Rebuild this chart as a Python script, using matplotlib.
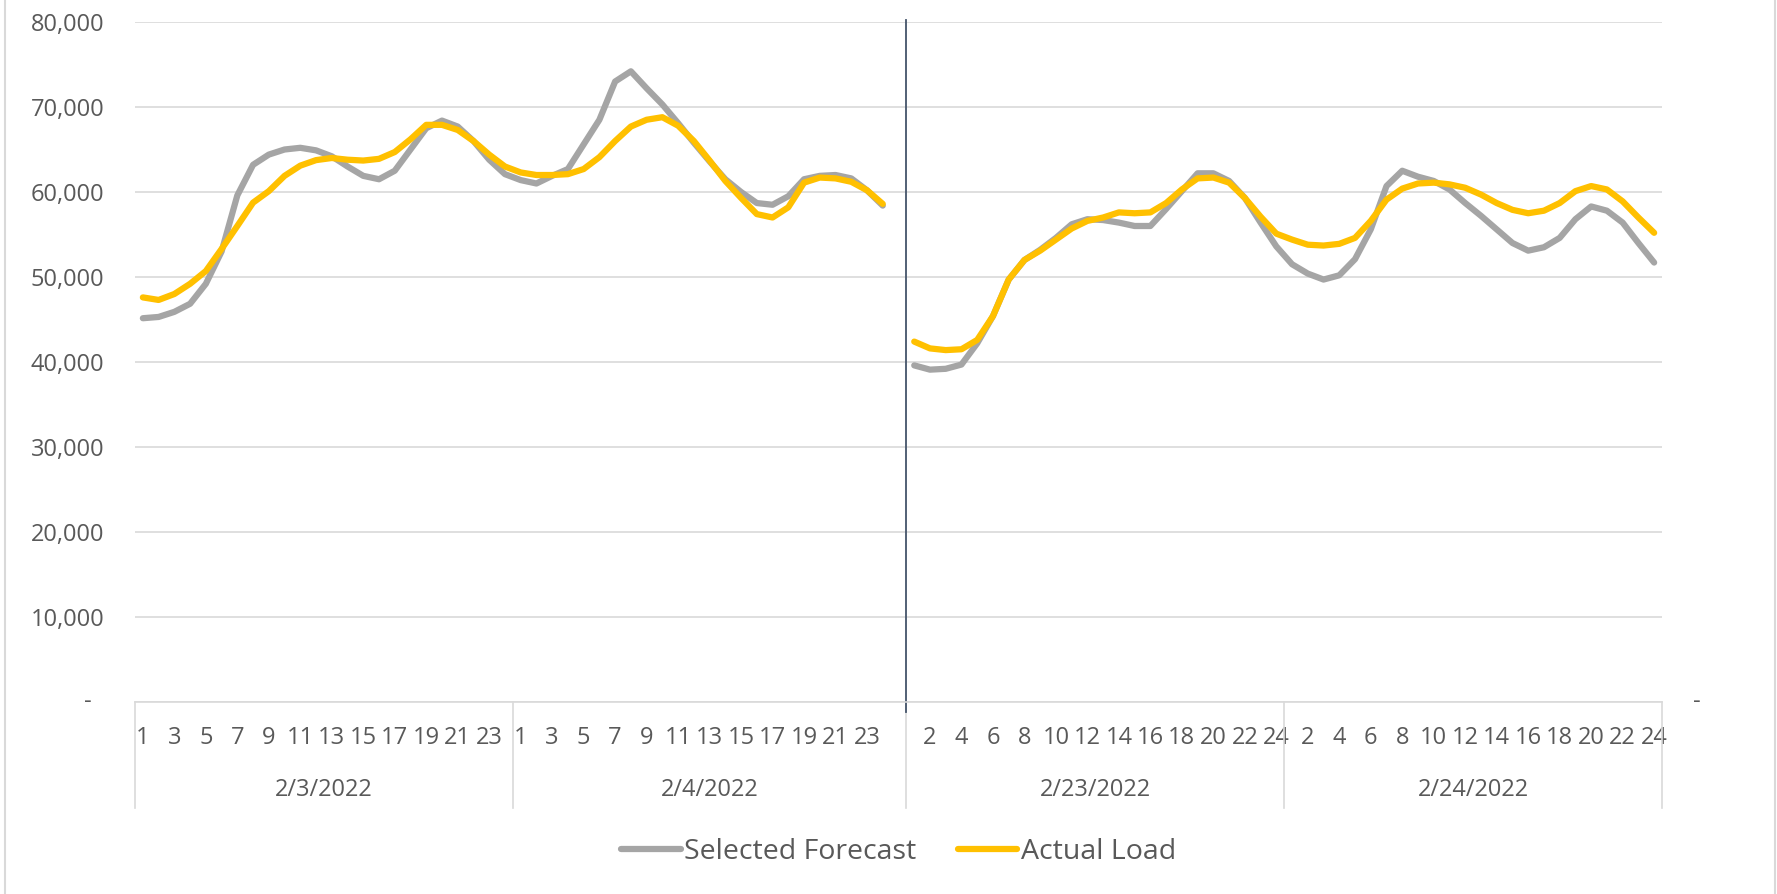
import matplotlib
matplotlib.use('Agg')
import matplotlib.pyplot as plt
from matplotlib.lines import Line2D
import numpy as np

plt.rcParams['font.family'] = ['Open Sans', 'DejaVu Sans']

# categories
dates = ['2/3/2022', '2/4/2022', '2/23/2022', '2/24/2022']
hours = list(range(1, 25))
gap_after = 1  # blank category after 2/4/2022

# hourly values (MW)
forecast_by_day = [
    [45150, 45300, 45900, 46850, 49200, 53000, 59600, 63200, 64400, 65000, 65200, 64900,
     64200, 63000, 61900, 61500, 62500, 65000, 67500, 68400, 67700, 66000, 63800, 62100],
    [61400, 61000, 61900, 62700, 65600, 68500, 73000, 74200, 72200, 70300, 68100, 65800,
     63600, 61500, 60000, 58700, 58500, 59500, 61500, 61900, 62000, 61600, 60200, 58400],
    [39600, 39100, 39200, 39700, 42200, 45400, 49700, 52000, 53200, 54600, 56200, 56800,
     56700, 56400, 56000, 56000, 58000, 60100, 62200, 62200, 61300, 59300, 56400, 53600],
    [51500, 50400, 49700, 50200, 52100, 55600, 60700, 62500, 61800, 61300, 60300, 58700,
     57200, 55600, 54000, 53100, 53500, 54600, 56800, 58300, 57800, 56400, 54000, 51700],
]
actual_by_day = [
    [47600, 47300, 48000, 49200, 50700, 53300, 56000, 58750, 60100, 61900, 63100, 63750,
     64000, 63800, 63700, 63900, 64700, 66200, 67900, 67900, 67300, 66000, 64400, 63000],
    [62300, 62000, 62000, 62100, 62700, 64100, 66000, 67700, 68500, 68800, 67800, 66000,
     63700, 61300, 59300, 57400, 57000, 58200, 61100, 61700, 61600, 61200, 60200, 58600],
    [42400, 41600, 41400, 41500, 42600, 45400, 49700, 52000, 53100, 54400, 55700, 56600,
     57000, 57600, 57500, 57600, 58700, 60300, 61600, 61700, 61100, 59300, 57100, 55100],
    [54400, 53800, 53700, 53900, 54600, 56600, 59100, 60400, 61000, 61100, 60900, 60500,
     59700, 58700, 57900, 57500, 57800, 58700, 60100, 60700, 60300, 58900, 57000, 55200],
]

text_color = '#595959'
grid_color = '#D9D9D9'

# category positions, with one empty slot between the two periods
starts = []
pos = 0
for d in range(len(dates)):
    starts.append(pos)
    pos += len(hours)
    if d == gap_after:
        pos += 1
n_cat = pos
x = np.arange(n_cat)

forecast = np.full(n_cat, np.nan)
actual = np.full(n_cat, np.nan)
for d, s in enumerate(starts):
    forecast[s:s + len(hours)] = forecast_by_day[d]
    actual[s:s + len(hours)] = actual_by_day[d]

W, H = 1777, 894
fig = plt.figure(figsize=(W / 100, H / 100), dpi=100)
ax = fig.add_axes([135 / W, 1 - 702 / H, (1662 - 135) / W, (702 - 22) / H])

line_kw = dict(lw=4.5, solid_capstyle='round', solid_joinstyle='round')
ax.plot(x, forecast, color='#A5A5A5', label='Selected Forecast', **line_kw)
ax.plot(x, actual, color='#FFC000', label='Actual Load', **line_kw)

ax.set_xlim(-0.5, n_cat - 0.5)
ax.set_ylim(0, 80000)

yt = np.arange(0, 80001, 10000)
ax.set_yticks(yt, ['' if v == 0 else f'{v:,}' for v in yt])
ax.yaxis.grid(True, color=grid_color, lw=1.2)
ax.set_axisbelow(True)
for side in ['top', 'right', 'left']:
    ax.spines[side].set_visible(False)
ax.spines['bottom'].set_color(grid_color)
ax.spines['bottom'].set_linewidth(1.2)
ax.tick_params(axis='y', length=0, pad=22, labelsize=17, labelcolor=text_color)
ax.text(-0.0282, 0, '-', transform=ax.get_yaxis_transform(), ha='right', va='center',
        fontsize=17, color=text_color)
ax.text(1.023, 0, '-', transform=ax.get_yaxis_transform(), ha='center', va='center',
        fontsize=17, color=text_color)

# hour labels: every second category
tick_pos, tick_lab = [], []
for s in starts:
    for j, h in enumerate(hours):
        if (s + j) % 2 == 0:
            tick_pos.append(s + j)
            tick_lab.append(str(h))
ax.set_xticks(tick_pos, tick_lab)
ax.tick_params(axis='x', length=0, pad=17, labelsize=17, labelcolor=text_color)

# date groups
bounds = [starts[0] - 0.5] + [s - 0.5 for s in starts[1:]] + [n_cat - 0.5]
xt = ax.get_xaxis_transform()
for b in bounds:
    ax.plot([b, b], [0, -0.156], transform=xt, clip_on=False, color=grid_color, lw=1.2)
for d, lab in enumerate(dates):
    ax.text((bounds[d] + bounds[d + 1]) / 2, -0.129, lab, transform=xt, ha='center',
            va='center', fontsize=17, color=text_color)

# divider between the two periods
ax.axvline(starts[gap_after + 1] - 0.5, ymin=-0.015, ymax=1.003, color='#44546A',
           lw=1.3, clip_on=False)

leg = fig.legend(loc='center', bbox_to_anchor=((135 + 1662) / 2 / W, 1 - 852 / H), ncol=2,
                 frameon=False, fontsize=20.5, handlelength=2.1, handletextpad=0.12,
                 columnspacing=1.45)
for t in leg.get_texts():
    t.set_color(text_color)

# chart border
fig.add_artist(Line2D([5 / W, 5 / W], [0, 1], transform=fig.transFigure, color=grid_color, lw=1.5))
fig.add_artist(Line2D([1775 / W, 1775 / W], [0, 1], transform=fig.transFigure, color=grid_color, lw=1.5))

fig.savefig('out.png', dpi=100)
